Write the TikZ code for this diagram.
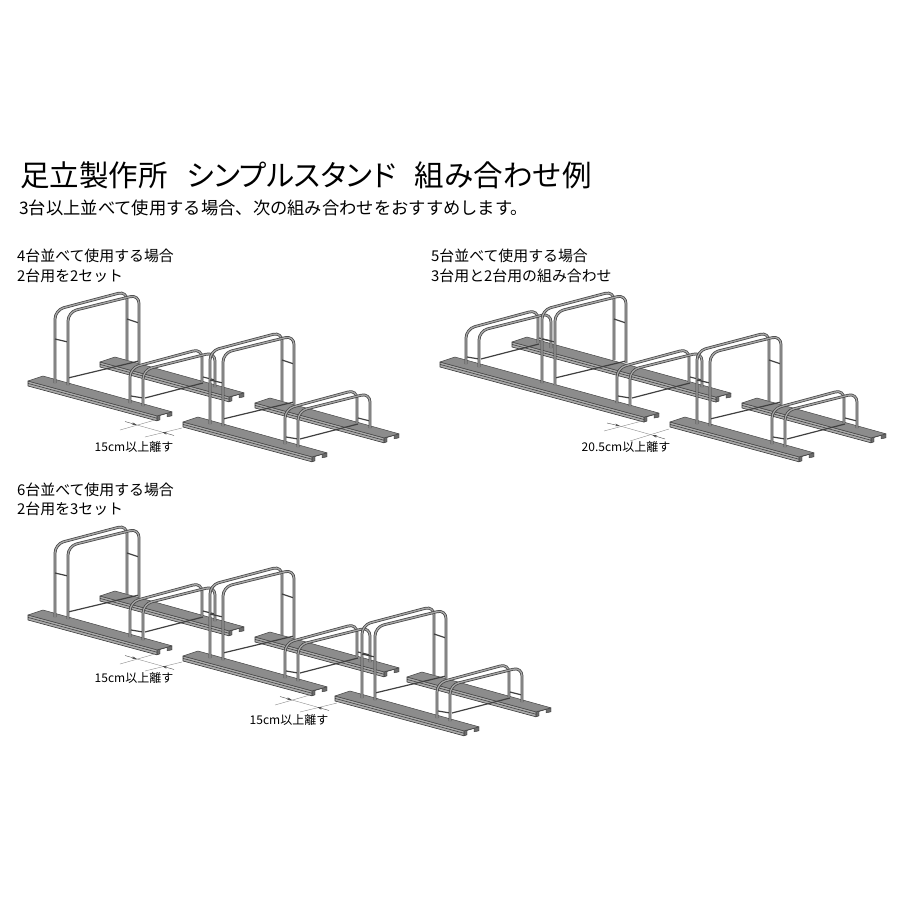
\documentclass[tikz,border=0pt]{standalone}
\usepackage{fontspec}
\setmainfont{Noto Sans CJK JP}
\usetikzlibrary{arrows.meta}
\tikzset{
	railtop/.style={fill=black!45, draw=black!72, line width=.5pt, line join=round},
	railside/.style={fill=black!33, draw=black!78, line width=.6pt, line join=round},
	railend/.style={fill=black!58, draw=black!80, line width=.4pt, line join=round},
	tube/.style={draw=black!72, double=black!35, double distance=1.3pt, line width=.75pt, rounded corners=9pt},
	bar/.style={draw=black!75, line width=1.2pt},
	dimline/.style={draw=black!45, line width=.4pt},
	dimtip/.style={-{Stealth[length=5pt,width=2.6pt]}, draw=black!70, line width=.4pt},
	title/.style={anchor=west, inner sep=0pt, font=\fontsize{29.5}{33}\selectfont},
	subtitle/.style={anchor=west, inner sep=0pt, font=\fontsize{17.3}{20}\selectfont},
	caption/.style={anchor=west, inner sep=0pt, font=\fontsize{14.9}{17}\selectfont},
	gaplabel/.style={inner sep=0pt, font=\fontsize{12}{15}\selectfont},
	pics/rail/.style={code={
		\pgfmathsetmacro\raildy{.27*#1}
		\filldraw[railend] (#1,\raildy+5) -- (#1+3,\raildy+4) -- (#1+3,\raildy-.4) -- (#1+10,\raildy-2.4)
			-- (#1+10,\raildy+1) -- (#1+15,\raildy) -- (#1+15,\raildy-4) -- (#1,\raildy) -- cycle;
		\filldraw[railside] (0,0) -- (#1,\raildy) -- (#1,\raildy+5) -- (0,5) -- cycle;
		\draw[black!75, line width=.6pt] (0,2.4) -- (#1,\raildy+2.4);
		\filldraw[railtop] (0,0) -- (15,-5) -- (#1+15,\raildy-4) -- (#1,\raildy) -- cycle;
	}},
	pics/tall/.style={code={
		\draw[bar] (68,378) -- (139,361);
		\draw[tube] (55,383) -- (55,310) -- (127,291) -- (127,360);
		\draw[bar] (55,339) -- (68,342);
		\draw[bar] (127,319) -- (139,323);
		\draw[tube] (68,385) -- (68,312) -- (139,294.5) -- (139,363);
	}},
	pics/low/.style={code={
		\draw[bar] (145,398) -- (203,383);
		\draw[tube] (130,403) -- (130,368) -- (202,348.6) -- (202,382);
		\draw[bar] (131,396) -- (143,398);
		\draw[bar] (203,377) -- (215,380);
		\draw[tube] (143,406) -- (143,370) -- (215,352) -- (215,387);
	}},
	pics/stand/.style={code={
		\pic at (100,362) {rail=129};
		\pic at (28,381) {rail=129};
		\pic {tall};
		\pic {low};
	}},
	pics/gap/.style={code={
		\draw[dimline] (120,430) -- (155,420);
		\draw[dimline] (145,437) -- (182,428);
		\draw[dimline] (137,425) -- (162,432);
		\draw[dimtip] (125,421.5) -- (137,425);
		\draw[dimtip] (174,435.5) -- (162,432);
	}},
}
\begin{document}
\begin{tikzpicture}[x=1pt, y=-1pt]
	\useasboundingbox (0,0) rectangle (900,900);
	\node[title] (head) at (20,175) {足立製作所\hspace{19pt}{\addfontfeatures{RawFeature=+palt}シンプルスタンド}\hspace{19pt}組み合わせ例};
	\node[subtitle] (subhead) at (19,208) {3台以上並べて使用する場合、次の組み合わせをおすすめします。};

	% 4 stands
	\node[caption] (capA) at (17,256) {4台並べて使用する場合};
	\node[caption] (capAb) at (17,276) {2台用を2セット};
	\foreach \dx/\dy in {0/0, 155/41} {
		\pic at (\dx,\dy) {stand};
	}
	\pic {gap};
	\node[gaplabel] (gapA) at (134,447) {15cm以上離す};

	% 5 stands
	\node[caption] (capB) at (431,256) {5台並べて使用する場合};
	\node[caption] (capBb) at (431,276) {3台用と2台用の組み合わせ};
	\pic at (512,342) {rail=204};
	\pic at (440,362) {rail=204};
	\pic at (336,-39) {low};
	\pic at (487,0) {tall};
	\pic at (487,0) {low};
	\pic at (642,41) {stand};
	\draw[dimline] (604,431) -- (642,421);
	\draw[dimline] (630,441) -- (669,429);
	\draw[dimline] (620,426) -- (652,435);
	\draw[dimtip] (607,423) -- (620,426);
	\draw[dimtip] (665,439) -- (652,435);
	\node[gaplabel] (gapB) at (626,447) {20.5cm以上離す};

	% 6 stands
	\node[caption] (capC) at (17,490) {6台並べて使用する場合};
	\node[caption] (capCb) at (17,509) {2台用を3セット};
	\foreach \dx/\dy in {0/234, 155/275, 307/315} {
		\pic at (\dx,\dy) {stand};
	}
	\pic at (0,234) {gap};
	\pic at (155,275) {gap};
	\node[gaplabel] (gapC) at (134,678) {15cm以上離す};
	\node[gaplabel] (gapD) at (289,720) {15cm以上離す};
\end{tikzpicture}
\end{document}
